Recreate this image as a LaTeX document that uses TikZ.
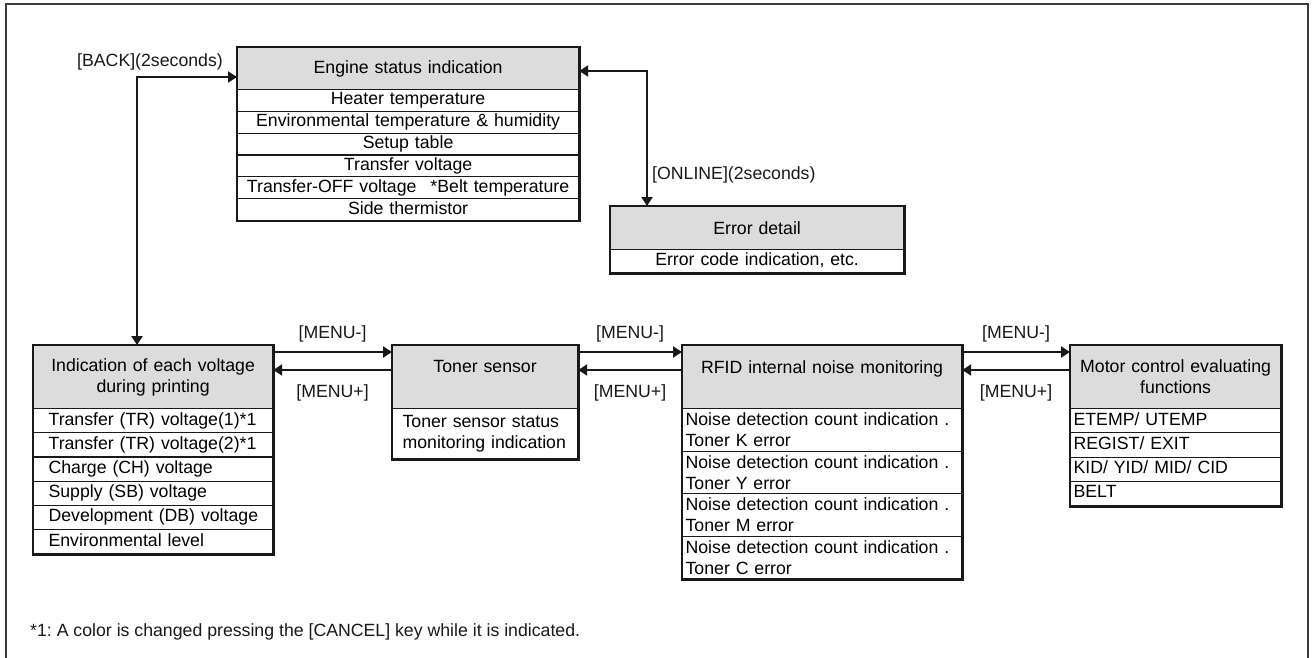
\documentclass[tikz,border=0pt]{standalone}
\usepackage{fontspec}
\setmainfont{Liberation Sans}
\usetikzlibrary{arrows.meta}
\frenchspacing

\definecolor{headgray}{RGB}{220,220,220}
\definecolor{framegray}{RGB}{60,60,60}
\definecolor{inkblack}{RGB}{25,25,25}

\tikzset{
  head/.style={draw=inkblack, line width=1.2pt, fill=headgray, anchor=north west,
    inner xsep=3pt, inner ysep=0pt, align=center},
  cell/.style={draw=inkblack, line width=1.2pt, anchor=north west, inner ysep=0pt},
  oneline/.style={text height=12.5pt, text depth=3.5pt},
  boxline/.style={draw=inkblack, line width=2.6pt},
  link/.style={draw=inkblack, line width=2.2pt},
  lbl/.style={inner sep=0pt, text=inkblack},
}

\begin{document}
\begin{tikzpicture}[x=1pt, y=-1pt, font=\fontsize{17.7pt}{21pt}\selectfont,
  >={Triangle[length=9pt,width=11pt]}]
  \useasboundingbox (0,0) rectangle (1314,658);
  \draw[framegray, line width=2.2pt] (6,662) -- (6,4) -- (1308,4) -- (1308,662);

  \node[head, text width=335pt, minimum height=42pt] (eng) at (237,47) {Engine status indication};
  \foreach \txt [count=\i] in {Heater temperature, Environmental temperature \& humidity,
      Setup table, Transfer voltage, Transfer-OFF voltage\hspace{14pt}*Belt temperature, Side thermistor}
    \node[cell, oneline, text width=335pt, inner xsep=3pt, align=center, minimum height=21.8pt]
      (eng\i) at (237,{89+21.8*(\i-1)}) {\txt};
  \draw[boxline] (eng.north west) rectangle (eng6.south east);

  \node[head, text width=287pt, minimum height=43pt] (err) at (610,206) {Error detail};
  \node[cell, oneline, text width=287pt, inner xsep=3pt, align=center, minimum height=23pt]
    (err1) at (610,249) {Error code indication, etc.};
  \draw[boxline] (err.north west) rectangle (err1.south east);

  \node[head, text width=233pt, minimum height=63pt] (volt) at (33,345) {Indication of each voltage\\during printing};
  \foreach \txt [count=\i] in {Transfer (TR) voltage(1)*1, Transfer (TR) voltage(2)*1, Charge (CH) voltage,
      Supply (SB) voltage, Development (DB) voltage, Environmental level}
    \node[cell, oneline, text width=239pt, inner xsep=0pt, align=left, minimum height=24.17pt]
      (volt\i) at (33,{408+24.17*(\i-1)}) {\hspace*{15pt}\txt};
  \draw[boxline] (volt.north west) rectangle (volt6.south east);

  \node[head, text width=179pt, minimum height=63pt] (ton) at (392,345) {Toner sensor\\\mbox{}};
  \node[cell, text width=165pt, inner xsep=10pt, align=left, minimum height=50pt]
    (ton1) at (392,408) {Toner sensor status\\monitoring indication};
  \draw[boxline] (ton.north west) rectangle (ton1.south east);

  \node[head, text width=273pt, minimum height=63pt] (rfid) at (682,345) {RFID internal noise monitoring\\\mbox{}};
  \foreach \col [count=\i] in {K,Y,M,C}
    \node[cell, text width=273pt, inner xsep=3pt, align=left, minimum height=42.5pt]
      (rfid\i) at (682,{408+42.5*(\i-1)}) {Noise detection count indication .\\Toner \col{} error};
  \draw[boxline] (rfid.north west) rectangle (rfid4.south east);

  \node[head, text width=204pt, minimum height=63pt] (mot) at (1070,345) {Motor control evaluating\\functions};
  \foreach \txt [count=\i] in {ETEMP/ UTEMP, REGIST/ EXIT, KID/ YID/ MID/ CID, BELT}
    \node[cell, oneline, text width=204pt, inner xsep=3pt, align=left, minimum height=24.25pt]
      (mot\i) at (1070,{408+24.25*(\i-1)}) {\txt};
  \draw[boxline] (mot.north west) rectangle (mot4.south east);

  \coordinate (backturn) at (137,77);
  \draw[link, <->] (backturn |- volt.north) -- (backturn) -- (eng.west |- backturn);
  \node[lbl] (backlbl) at (150,62) {[BACK](2seconds)};

  \coordinate (onturn) at (647,71);
  \draw[link, <->] (eng.east |- onturn) -- (onturn) -- (onturn |- err.north);
  \node[lbl, anchor=west] (onlbl) at (652,175) {[ONLINE](2seconds)};

  \draw[link, ->] (volt.east |- 0,352) -- (ton.west |- 0,352) node[lbl, midway, above=9pt] (dn1) {[MENU-]};
  \draw[link, ->] (ton.west |- 0,370) -- (volt.east |- 0,370) node[lbl, midway, below=14pt] (up1) {[MENU+]};
  \draw[link, ->] (ton.east |- 0,352) -- (rfid.west |- 0,352) node[lbl, midway, above=9pt] (dn2) {[MENU-]};
  \draw[link, ->] (rfid.west |- 0,370) -- (ton.east |- 0,370) node[lbl, midway, below=14pt] (up2) {[MENU+]};
  \draw[link, ->] (rfid.east |- 0,352) -- (mot.west |- 0,352) node[lbl, midway, above=9pt] (dn3) {[MENU-]};
  \draw[link, ->] (mot.west |- 0,370) -- (rfid.east |- 0,370) node[lbl, midway, below=14pt] (up3) {[MENU+]};

  \node[lbl, anchor=west] (note) at (30,632) {*1: A color is changed pressing the [CANCEL] key while it is indicated.};
\end{tikzpicture}
\end{document}
